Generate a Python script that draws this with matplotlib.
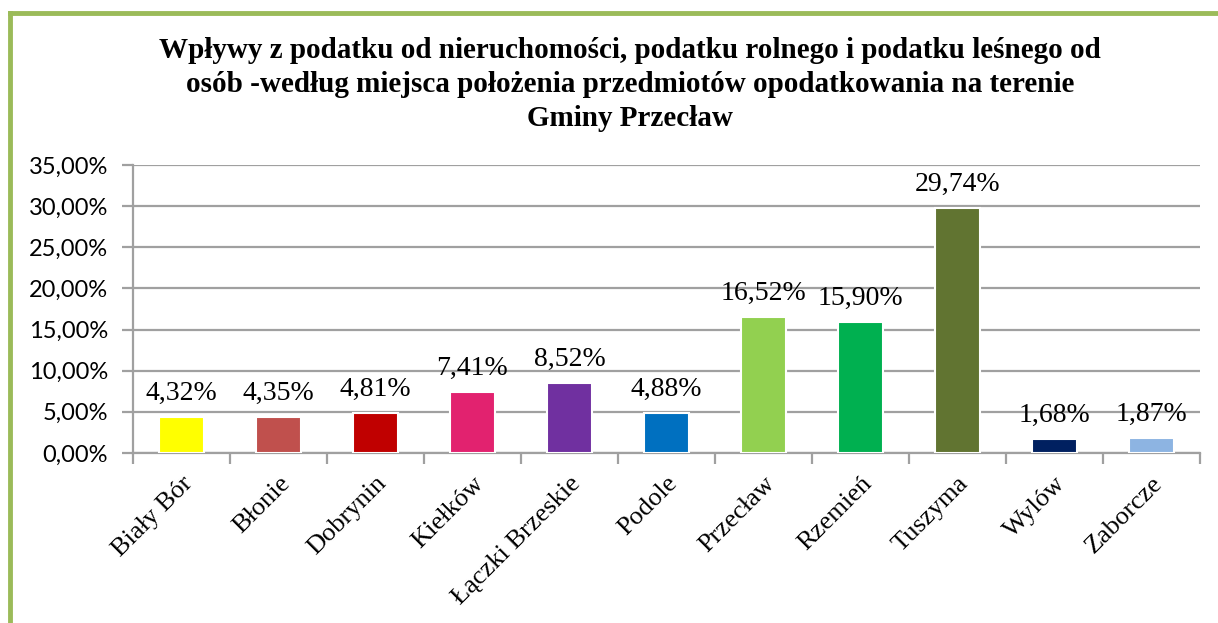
import matplotlib
matplotlib.use("Agg")
import matplotlib.pyplot as plt
from matplotlib.lines import Line2D

# udział sołectw we wpływach (w %)
villages = ["Biały Bór", "Błonie", "Dobrynin", "Kiełków", "Łączki Brzeskie", "Podole",
            "Przecław", "Rzemień", "Tuszyma", "Wylów", "Zaborcze"]
shares = [4.32, 4.35, 4.81, 7.41, 8.52, 4.88, 16.52, 15.90, 29.74, 1.68, 1.87]
colors = ["#FFFF00", "#C0504D", "#C00000", "#E2226F", "#7030A0", "#0070C0",
          "#92D050", "#00B050", "#617431", "#002060", "#8DB4E2"]
yticks = [0, 5, 10, 15, 20, 25, 30, 35]

title = ("Wpływy z podatku od nieruchomości, podatku rolnego i podatku leśnego od\n"
         "osób -według miejsca położenia przedmiotów opodatkowania na terenie\n"
         "Gminy Przecław")

serif = "Liberation Serif"
sans = "Lato"
grid_c = "#A0A0A0"

fig = plt.figure(figsize=(12.18, 6.23), dpi=100)
ax = fig.add_axes([0.1092, 0.2729, 0.876, 0.4623])

x = list(range(len(villages)))
ax.bar(x, shares, width=0.46, color=colors, edgecolor="white", linewidth=1.5, zorder=3)

for xi, v in zip(x, shares):
    ax.annotate(f"{v:.2f}%".replace(".", ","), (xi, v), xytext=(0, 8),
                textcoords="offset points", ha="center", va="bottom",
                family=serif, fontsize=20, zorder=4)

ax.set_xlim(-0.5, len(villages) - 0.5)
ax.set_ylim(0, 35)
ax.set_yticks(yticks)
ax.set_yticklabels([f"{t:.2f}%".replace(".", ",") for t in yticks],
                   family=sans, fontsize=17)
ax.yaxis.grid(True, color=grid_c, linewidth=1.6, zorder=0)
ax.set_axisbelow(True)

# podziałka między kategoriami
ax.set_xticks([i - 0.5 for i in range(len(villages) + 1)])
ax.set_xticklabels([])
ax.set_xticks(x, minor=True)
ax.set_xticklabels(villages, minor=True, rotation=45, ha="right", va="top",
                   rotation_mode="anchor", family=serif, fontsize=19)
ax.tick_params(axis="x", which="minor", length=0, pad=14)
ax.tick_params(axis="x", which="major", length=8, color=grid_c, width=1.6)
ax.tick_params(axis="y", length=8, color=grid_c, width=1.6, pad=10)

for side in ["top", "right"]:
    ax.spines[side].set_visible(False)
for side in ["left", "bottom"]:
    ax.spines[side].set_color(grid_c)
    ax.spines[side].set_linewidth(1.6)

fig.text(0.517, 0.94, title, ha="center", va="top", family=serif,
         fontweight="bold", fontsize=21, linespacing=1.33)

# zielona ramka wykresu
frame_c = "#9BBB59"
fig.add_artist(Line2D([0.0085, 0.0085], [0, 0.979], color=frame_c, linewidth=3.5))
fig.add_artist(Line2D([0.0085, 1.0], [0.979, 0.979], color=frame_c, linewidth=3.5))

fig.savefig("out.png", dpi=100)
